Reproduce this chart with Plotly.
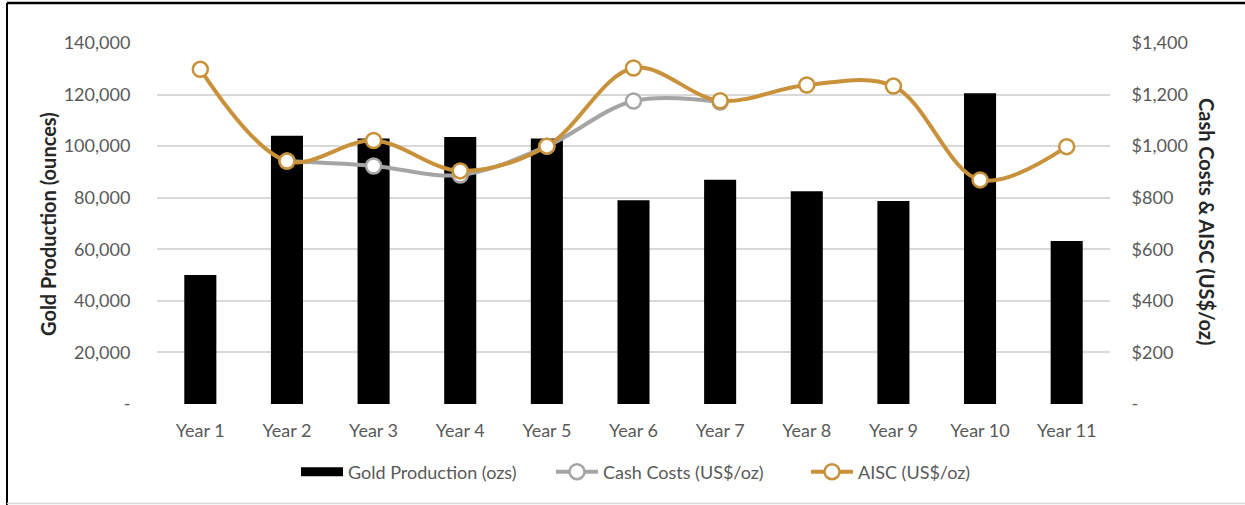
import plotly.graph_objects as go

years = ["Year 1", "Year 2", "Year 3", "Year 4", "Year 5", "Year 6",
         "Year 7", "Year 8", "Year 9", "Year 10", "Year 11"]
gold_production = [50000, 104000, 103000, 103500, 103000, 79000,
                   87000, 82500, 78700, 120500, 63200]
cash_costs = [None, 942, 923, 888, 1000, 1175, 1171, None, None, None, None]
aisc = [1298, 942, 1022, 904, 1000, 1303, 1176, 1237, 1233, 869, 998]

left_ticks = [0, 20000, 40000, 60000, 80000, 100000, 120000, 140000]
left_ticktext = ["-", "20,000", "40,000", "60,000", "80,000", "100,000", "120,000", "140,000"]
right_ticks = [0, 200, 400, 600, 800, 1000, 1200, 1400]
right_ticktext = ["-", "$200", "$400", "$600", "$800", "$1,000", "$1,200", "$1,400"]

FONT = "Lato"
GOLD = "#C8913A"
GRAY = "#A5A5A5"
TXT = "#595959"
FS = 18

fig = go.Figure()
fig.add_trace(go.Bar(x=years, y=gold_production, name="Gold Production (ozs)", showlegend=False,
                     legendgroup="gp", marker=dict(color="#000000", line=dict(width=0)), yaxis="y"))
# legend entry for the bars, drawn as a wide black swatch like the reference
fig.add_trace(go.Scatter(x=[None], y=[None], name="Gold Production (ozs)", legendgroup="gp",
                         mode="lines", line=dict(color="#000000", width=9), yaxis="y"))
fig.add_trace(go.Scatter(x=years, y=cash_costs, name="Cash Costs (US$/oz)", yaxis="y2",
                         mode="lines+markers", line=dict(color=GRAY, width=4, shape="spline", smoothing=1),
                         marker=dict(symbol="circle", size=15, color="white", line=dict(color=GRAY, width=2.5))))
fig.add_trace(go.Scatter(x=years, y=aisc, name="AISC (US$/oz)", yaxis="y2",
                         mode="lines+markers", line=dict(color=GOLD, width=4, shape="spline", smoothing=1),
                         marker=dict(symbol="circle", size=15, color="white", line=dict(color=GOLD, width=2.5))))

W, H = 1245, 505
L, R, T, B = 157, 135, 43, 101
pw, ph = W - L - R, H - T - B

def px(x):
    return (x - L) / pw

def py(y):
    return (H - B - y) / ph

fig.update_layout(
    width=W, height=H,
    margin=dict(l=L, r=R, t=T, b=B, pad=0),
    paper_bgcolor="white", plot_bgcolor="white",
    font=dict(family=FONT, size=FS, color=TXT),
    bargap=0.63,
    showlegend=True,
    legend=dict(orientation="h", x=px(296), xanchor="left", y=py(472), yanchor="middle",
                font=dict(family=FONT, size=FS, color=TXT), itemwidth=42,
                entrywidth=198, entrywidthmode="pixels",
                traceorder="normal"),
    xaxis=dict(range=[-0.5, 10.5], showgrid=False, showline=False, zeroline=False, ticks="outside",
               ticklen=10, tickcolor="rgba(0,0,0,0)", tickfont=dict(size=FS, color=TXT)),
    yaxis=dict(range=[0, 140000], tickvals=left_ticks, ticktext=left_ticktext,
               showgrid=True, gridcolor="#D9D9D9", gridwidth=1.5, zeroline=False, showline=False,
               ticks="outside", ticklen=22, tickcolor="rgba(0,0,0,0)",
               tickfont=dict(size=FS, color=TXT)),
    yaxis2=dict(range=[0, 1400], tickvals=right_ticks, ticktext=right_ticktext,
                overlaying="y", side="right", showgrid=False, zeroline=False, showline=False,
                ticks="outside", ticklen=17, tickcolor="rgba(0,0,0,0)",
                tickfont=dict(size=FS, color=TXT)),
    annotations=[
        dict(text="<b>Gold Production (ounces)</b>", xref="paper", yref="paper",
             x=px(48), y=py(224), textangle=-90, showarrow=False,
             font=dict(family=FONT, size=20, color="#262626"), xanchor="center", yanchor="middle"),
        dict(text="<b>Cash Costs &amp; AISC (US$/oz)</b>", xref="paper", yref="paper",
             x=px(1207), y=py(222), textangle=90, showarrow=False,
             font=dict(family=FONT, size=20, color="#262626"), xanchor="center", yanchor="middle"),
    ],
    shapes=[
        dict(type="line", xref="paper", yref="paper", x0=px(7), x1=px(7), y0=py(3), y1=py(505),
             line=dict(color="black", width=2)),
        dict(type="line", xref="paper", yref="paper", x0=px(7), x1=px(1245), y0=py(3), y1=py(3),
             line=dict(color="black", width=2.5)),
        dict(type="line", xref="paper", yref="paper", x0=px(7), x1=px(1245), y0=py(503.5), y1=py(503.5),
             line=dict(color="#D9D9D9", width=1.5)),
    ],
)

fig.write_html("out.html", config={"displayModeBar": False},
               post_script="document.body.style.margin='0';document.body.style.overflow='hidden';")
